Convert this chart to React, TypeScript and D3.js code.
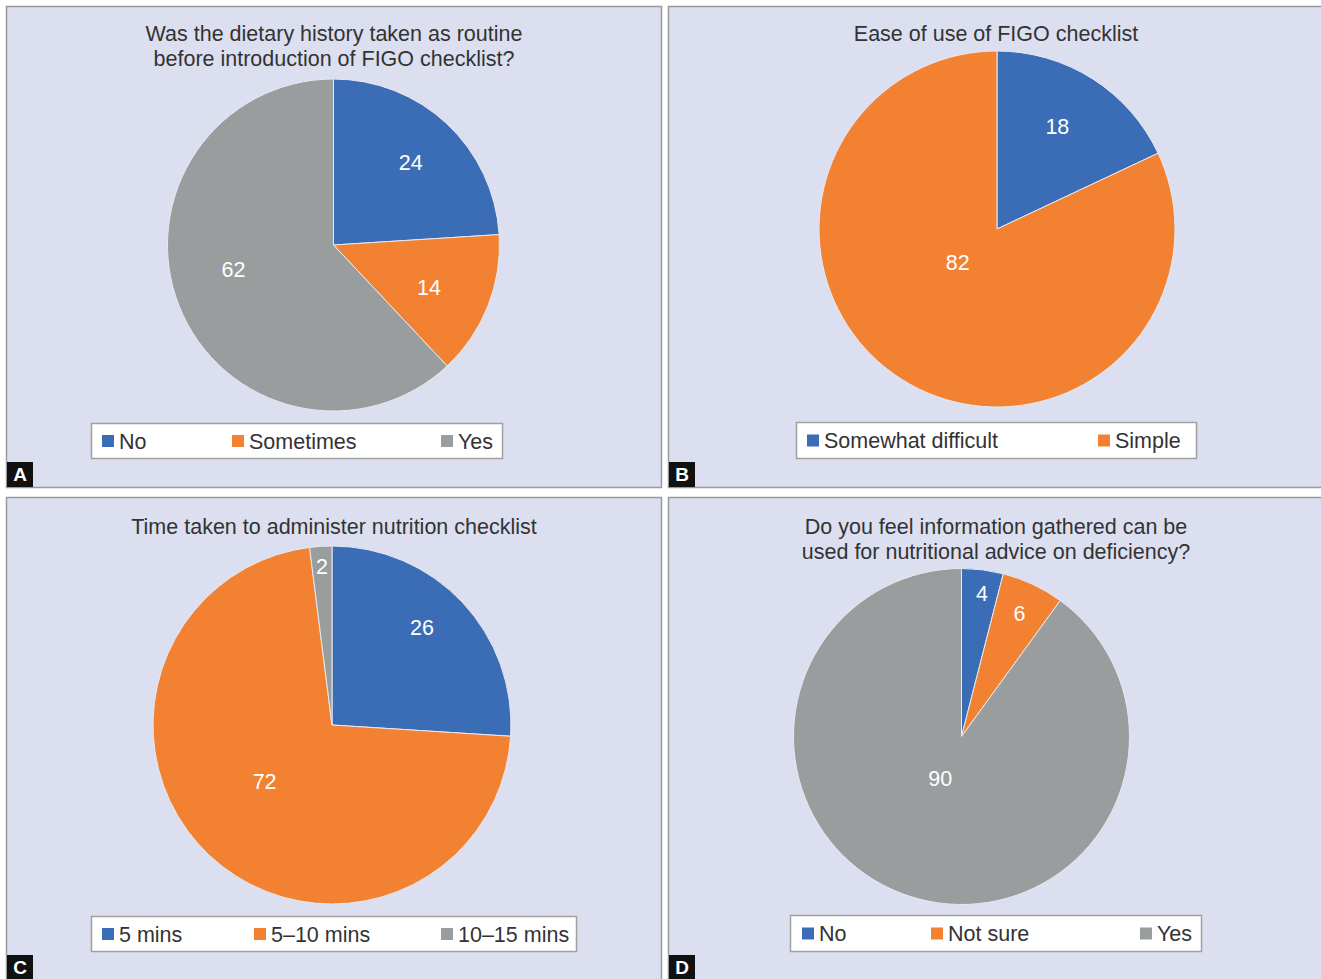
import React from "react";
import * as d3 from "d3";

const COLORS = ["#3b6db6", "#f28232", "#9a9d9d"];

const titlesA = ["Was the dietary history taken as routine", "before introduction of FIGO checklist?"];
const catsA = ["No", "Sometimes", "Yes"];
const valsA = [24, 14, 62];

const titlesB = ["Ease of use of FIGO checklist"];
const catsB = ["Somewhat difficult", "Simple"];
const valsB = [18, 82];

const titlesC = ["Time taken to administer nutrition checklist"];
const catsC = ["5 mins", "5–10 mins", "10–15 mins"];
const valsC = [26, 72, 2];

const titlesD = ["Do you feel information gathered can be", "used for nutritional advice on deficiency?"];
const catsD = ["No", "Not sure", "Yes"];
const valsD = [4, 6, 90];

type PanelCfg = {
  letter: string;
  x: number; y: number; w: number; h: number;
  titles: string[];
  titleX: number;
  titleY: number;
  cats: string[];
  vals: number[];
  cx: number; cy: number; r: number;
  labelR: number[];
  labelAngleShift: number[];
  legend: { x: number; y: number; w: number; h: number; items: number[] };
  letterY: number;
};

const FONT = "'Liberation Sans', Arial, Helvetica, sans-serif";
const FS = 21.5;

const panels: PanelCfg[] = [
  {
    letter: "A", x: 6.5, y: 6.5, w: 655, h: 481,
    titles: titlesA, titleX: 334, titleY: 40.5, cats: catsA, vals: valsA,
    cx: 333.5, cy: 245, r: 166,
    labelR: [0.68, 0.63, 0.62], labelAngleShift: [0, 2.5, 8],
    legend: { x: 91.5, y: 423.5, w: 411, h: 35, items: [102, 232, 441] },
    letterY: 462,
  },
  {
    letter: "B", x: 668.5, y: 6.5, w: 670, h: 481,
    titles: titlesB, titleX: 996, titleY: 40.5, cats: catsB, vals: valsB,
    cx: 997, cy: 229, r: 178,
    labelR: [0.67, 0.29], labelAngleShift: [-2, 17],
    legend: { x: 796.5, y: 422.5, w: 400, h: 36, items: [807, 1098] },
    letterY: 462,
  },
  {
    letter: "C", x: 6.5, y: 497.5, w: 655, h: 490,
    titles: titlesC, titleX: 334, titleY: 533.5, cats: catsC, vals: valsC,
    cx: 332, cy: 725, r: 179,
    labelR: [0.74, 0.49, 0.89], labelAngleShift: [-4, 7, 0],
    legend: { x: 91.5, y: 916.5, w: 485, h: 35, items: [102, 254, 441] },
    letterY: 955,
  },
  {
    letter: "D", x: 668.5, y: 497.5, w: 670, h: 490,
    titles: titlesD, titleX: 996, titleY: 533.5, cats: catsD, vals: valsD,
    cx: 961.5, cy: 736.5, r: 168,
    labelR: [0.86, 0.81, 0.28], labelAngleShift: [1, 0, 9],
    legend: { x: 790.5, y: 915.5, w: 411, h: 36, items: [802, 931, 1140] },
    letterY: 955,
  },
];

function Panel({ p }: { p: PanelCfg }) {
  const pie = d3.pie<number>().sort(null).value((d) => d);
  const arcs = pie(p.vals);
  const arc = d3.arc<d3.PieArcDatum<number>>().innerRadius(0).outerRadius(p.r);
  return (
    <g>
      <rect x={p.x} y={p.y} width={p.w} height={p.h} fill="#dcdff0" stroke="#9a9a9a" strokeWidth={1.5} />
      {p.titles.map((t, i) => (
        <text key={i} x={p.titleX} y={p.titleY + i * 25} textAnchor="middle" fontFamily={FONT} fontSize={FS} fill="#333">
          {t}
        </text>
      ))}
      <g transform={`translate(${p.cx},${p.cy})`}>
        {arcs.map((a, i) => (
          <path key={i} d={arc(a) || ""} fill={COLORS[i]} stroke="#e8e8f0" strokeWidth={1} />
        ))}
        {arcs.map((a, i) => {
          const mid = (a.startAngle + a.endAngle) / 2 + (p.labelAngleShift[i] * Math.PI) / 180;
          const rr = p.r * p.labelR[i];
          const lx = Math.sin(mid) * rr;
          const ly = -Math.cos(mid) * rr;
          return (
            <text key={"l" + i} x={lx} y={ly} dy="0.35em" textAnchor="middle" fontFamily={FONT} fontSize={FS} fill="#ffffff">
              {p.vals[i]}
            </text>
          );
        })}
      </g>
      <rect x={p.legend.x} y={p.legend.y} width={p.legend.w} height={p.legend.h} fill="#ffffff" stroke="#a0a0a0" strokeWidth={1.5} />
      {p.cats.map((c, i) => {
        const lx = p.legend.items[i];
        const my = p.legend.y + p.legend.h / 2;
        return (
          <g key={"lg" + i}>
            <rect x={lx} y={my - 6} width={12} height={12} fill={COLORS[i]} />
            <text x={lx + 17} y={my} dy="0.35em" fontFamily={FONT} fontSize={FS} fill="#333">
              {c}
            </text>
          </g>
        );
      })}
      <rect x={p.x + 0.5} y={p.letterY} width={26} height={25} fill="#111" />
      <text x={p.x + 13.5} y={p.letterY + 12.5} dy="0.36em" textAnchor="middle" fontFamily={FONT} fontWeight="bold" fontSize={19} fill="#fff">
        {p.letter}
      </text>
    </g>
  );
}

export default function App() {
  return (
    <svg width={1321} height={979} style={{ position: "absolute", left: 0, top: 0, background: "#fff" }}>
      {panels.map((p) => (
        <Panel key={p.letter} p={p} />
      ))}
    </svg>
  );
}
